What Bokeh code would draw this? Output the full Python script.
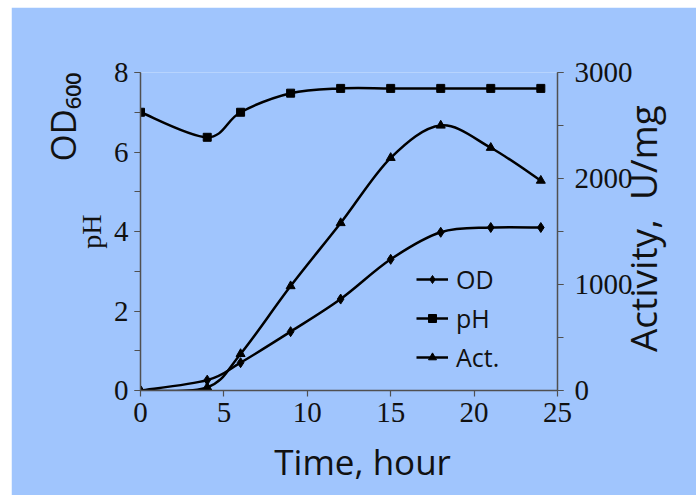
from math import pi
from bokeh.plotting import figure
from bokeh.layouts import column, row
from bokeh.models import (Range1d, LinearAxis, SingleIntervalTicker, FixedTicker, Legend,
                          LegendItem, ColumnDataSource, Spacer)
from bokeh.embed import file_html
from bokeh.resources import INLINE

# ---- data ----
time_h = [0, 4, 6, 9, 12, 15, 18, 21, 24]
od600 = [0, 0.26, 0.70, 1.48, 2.30, 3.30, 3.98, 4.10, 4.10]
ph = [7.0, 6.37, 7.0, 7.48, 7.6, 7.6, 7.6, 7.6, 7.6]
activity = [0, 30, 345, 985, 1580, 2195, 2500, 2290, 1980]
legend_labels = ["OD", "pH", "Act."]

BG = "#a0c5fd"
AX = "#505050"
TXT = "#111111"
NB = "\u00a0"


def smooth_segments(xs, ys):
    """Catmull-Rom style Bezier control points for a smooth line through the data."""
    n = len(xs)
    out = dict(x0=[], y0=[], x1=[], y1=[], cx0=[], cy0=[], cx1=[], cy1=[])
    for i in range(n - 1):
        a = max(i - 1, 0)
        d = min(i + 2, n - 1)
        out["x0"].append(xs[i]); out["y0"].append(ys[i])
        out["x1"].append(xs[i + 1]); out["y1"].append(ys[i + 1])
        out["cx0"].append(xs[i] + (xs[i + 1] - xs[a]) / 6.0)
        out["cy0"].append(ys[i] + (ys[i + 1] - ys[a]) / 6.0)
        out["cx1"].append(xs[i + 1] - (xs[d] - xs[i]) / 6.0)
        out["cy1"].append(ys[i + 1] - (ys[d] - ys[i]) / 6.0)
    return ColumnDataSource(out)


p = figure(width=685, height=488, output_backend="svg", toolbar_location=None,
           x_range=Range1d(0, 25), y_range=Range1d(0, 8),
           min_border_left=129, min_border_right=133, min_border_top=65, min_border_bottom=105,
           background_fill_color=BG, border_fill_color=BG, outline_line_color=None)
p.extra_y_ranges = {"act": Range1d(0, 3000)}
p.xgrid.visible = False
p.ygrid.visible = False

right = LinearAxis(y_range_name="act")
p.add_layout(right, "right")

p.xaxis[0].ticker = SingleIntervalTicker(interval=5, num_minor_ticks=0)
p.yaxis[0].ticker = SingleIntervalTicker(interval=2, num_minor_ticks=2)
right.ticker = SingleIntervalTicker(interval=1000, num_minor_ticks=2)

for ax in [p.xaxis[0], p.yaxis[0], right]:
    ax.axis_line_color = AX
    ax.axis_line_width = 1.5
    ax.major_tick_line_color = AX
    ax.minor_tick_line_color = AX
    ax.major_tick_line_width = 1.2
    ax.minor_tick_line_width = 1.2
    ax.major_tick_out = 6
    ax.major_tick_in = 0
    ax.minor_tick_out = 6
    ax.minor_tick_in = 0
    ax.major_label_text_font = "Liberation Serif"
    ax.major_label_text_font_size = "29px"
    ax.major_label_text_color = TXT
    ax.major_label_standoff = 6
right.major_label_standoff = 11

# axis titles
p.xaxis[0].axis_label = NB * 3 + "Time, hour"
p.xaxis[0].axis_label_text_font = "Open Sans"
p.xaxis[0].axis_label_text_font_size = "35px"
p.xaxis[0].axis_label_text_font_style = "normal"
p.xaxis[0].axis_label_text_color = TXT
p.xaxis[0].axis_label_standoff = 13

p.yaxis[0].axis_label = "pH"
p.yaxis[0].axis_label_text_font = "Liberation Serif"
p.yaxis[0].axis_label_text_font_size = "28px"
p.yaxis[0].axis_label_text_font_style = "normal"
p.yaxis[0].axis_label_text_color = TXT
p.yaxis[0].axis_label_standoff = 4

right.axis_label = NB * 4 + "Activity," + NB + " U/mg"
right.axis_label_text_font = "Open Sans"
right.axis_label_text_font_size = "37px"
right.axis_label_text_font_style = "normal"
right.axis_label_text_color = TXT
right.axis_label_standoff = 7
right.axis_label_orientation = pi / 2
right.axis_label_align = "start"

od_axis = LinearAxis(ticker=FixedTicker(ticks=[]), axis_line_color=None,
                     major_tick_out=0, major_tick_in=0, minor_tick_out=0, minor_tick_in=0,
                     major_label_standoff=0,
                     axis_label="OD\u2086\u2080\u2080", axis_label_standoff=10,
                     axis_label_text_font="Open Sans", axis_label_text_font_size="35px",
                     axis_label_text_font_style="normal", axis_label_text_color=TXT)
od_axis.axis_label_align = "end"
od_axis.axis_label_orientation = pi / 2
p.add_layout(od_axis, "left")

LW = 2.5
od_src = smooth_segments(time_h, od600)
ph_src = smooth_segments(time_h, ph)
act_src = smooth_segments(time_h, activity)

bz = dict(x0="x0", y0="y0", x1="x1", y1="y1", cx0="cx0", cy0="cy0", cx1="cx1", cy1="cy1",
          line_color="black", line_width=LW)
od_line = p.bezier(source=od_src, **bz)
ph_line = p.bezier(source=ph_src, **bz)
act_line = p.bezier(source=act_src, y_range_name="act", **bz)

od_pts = p.scatter(time_h, od600, marker="diamond", size=10, color="black")
ph_pts = p.scatter(time_h, ph, marker="square", size=8, color="black")
act_pts = p.scatter(time_h, activity, marker="triangle", size=9, color="black",
                    y_range_name="act")

legend = Legend(items=[
    LegendItem(label=legend_labels[0], renderers=[od_line, od_pts]),
    LegendItem(label=legend_labels[1], renderers=[ph_line, ph_pts]),
    LegendItem(label=legend_labels[2], renderers=[act_line, act_pts]),
], location=(276, 16), orientation="vertical",
    background_fill_alpha=0, border_line_alpha=0, padding=0, margin=0,
    glyph_width=32, glyph_height=20, label_standoff=8, label_height=20, spacing=5,
    label_text_font="Open Sans", label_text_font_size="25px", label_text_color=TXT)
p.add_layout(legend, "center")

layout = column(Spacer(height=7), row(Spacer(width=11), p, spacing=0), spacing=0)
open("out.html", "w").write(file_html(layout, INLINE))
